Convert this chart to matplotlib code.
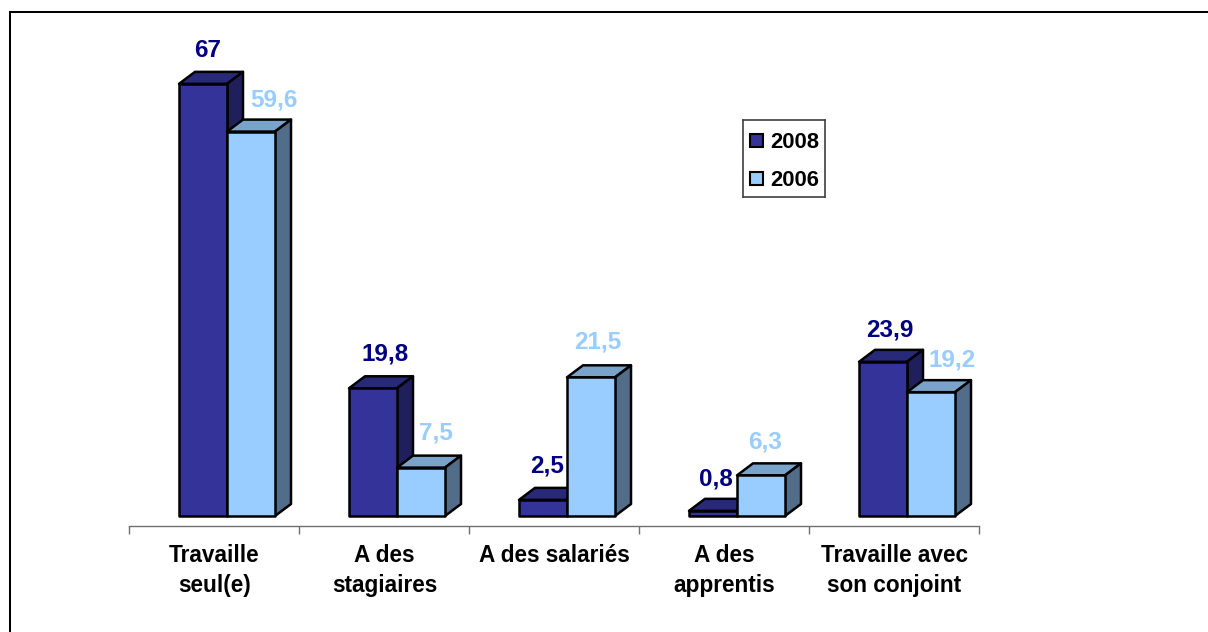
import matplotlib
matplotlib.use('Agg')
import matplotlib.pyplot as plt
from matplotlib.lines import Line2D
from matplotlib.patches import Polygon, Rectangle

categories = ['Travaille\nseul(e)', 'A des\nstagiaires', 'A des salariés', 'A des\napprentis', 'Travaille avec\nson conjoint']
values_2008 = [67, 19.8, 2.5, 0.8, 23.9]
values_2006 = [59.6, 7.5, 21.5, 6.3, 19.2]
labels_2008 = ['67', '19,8', '2,5', '0,8', '23,9']
labels_2006 = ['59,6', '7,5', '21,5', '6,3', '19,2']

# the labels were hand placed in the original, nudges in pixels from the front face
nudge_x_2008 = [5, 12, 4, 3, 7]
nudge_y_2008 = [36, 37, 36, 34, 34]
nudge_x_2006 = [23, 15, 7, 4, 21]
nudge_y_2006 = [34, 37, 38, 36, 35]

W, H = 1208, 632
PX_PER_UNIT = 6.45
CAT_PX = 170.0
BAR_W = 48 / CAT_PX
DX = 16 / CAT_PX
DY = 12 / PX_PER_UNIT

plt.rcParams['font.family'] = ['Liberation Sans', 'DejaVu Sans']
plt.rcParams['font.weight'] = 'bold'

fig = plt.figure(figsize=(W / 100, H / 100), dpi=100)
fig.patch.set_facecolor('white')

# outer frame, only top and left are visible
fig.add_artist(Line2D([10 / W, 1], [1 - 12 / H, 1 - 12 / H], color='black', linewidth=1.45))
fig.add_artist(Line2D([10 / W, 10 / W], [0, 1 - 12 / H], color='black', linewidth=1.45))

# axes spans the category band, its bottom is the bar base line
ax = fig.add_axes([129 / W, (H - 516) / H, 850 / W, 470 / H])
ax.set_xlim(0, 5)
ax.set_ylim(0, 470 / PX_PER_UNIT)
ax.patch.set_alpha(0)
for s in ['top', 'left', 'right']:
    ax.spines[s].set_visible(False)
ax.spines['bottom'].set_position(('outward', 7.2))
ax.spines['bottom'].set_color('#707070')
ax.spines['bottom'].set_linewidth(1.0)
ax.set_yticks([])
ax.set_xticks(range(6))
ax.set_xticklabels([])
ax.tick_params(axis='x', length=6, width=1.0, color='#707070')


def bar3d(x, v, front, top, side, z):
    x2 = x + BAR_W
    kw = dict(edgecolor='black', linewidth=1.8, joinstyle='round', clip_on=False, zorder=z)
    ax.add_patch(Polygon([(x, v), (x + DX, v + DY), (x2 + DX, v + DY), (x2, v)], facecolor=top, **kw))
    ax.add_patch(Polygon([(x2, 0), (x2 + DX, DY), (x2 + DX, v + DY), (x2, v)], facecolor=side, **kw))
    ax.add_patch(Rectangle((x, 0), BAR_W, v, facecolor=front, **kw))


for i in range(5):
    x1 = i + 50 / CAT_PX
    x2 = x1 + BAR_W
    bar3d(x1, values_2008[i], '#333399', '#29297A', '#1F1F5C', 2 + i)
    bar3d(x2, values_2006[i], '#99CCFF', '#7AA3CC', '#526D8A', 2.5 + i)
    ax.annotate(labels_2008[i], (x1 + BAR_W / 2, values_2008[i]),
                xytext=(nudge_x_2008[i], nudge_y_2008[i] - 9), textcoords='offset pixels',
                ha='center', va='baseline', color='#000080', fontsize=17.5, zorder=10)
    ax.annotate(labels_2006[i], (x2 + BAR_W / 2, values_2006[i]),
                xytext=(nudge_x_2006[i], nudge_y_2006[i] - 9), textcoords='offset pixels',
                ha='center', va='baseline', color='#99CCFF', fontsize=17.5, zorder=10)
    ax.annotate(categories[i], (i + 0.5, 0), xytext=(0.5, -28), textcoords='offset pixels',
                ha='center', va='top', color='black', fontsize=16.3, linespacing=1.37,
                annotation_clip=False)

# legend box
lax = fig.add_axes([742.5 / W, (H - 196.5) / H, 82.5 / W, 76.5 / H])
lax.set_xlim(0, 82.5)
lax.set_ylim(76.5, 0)
lax.set_xticks([])
lax.set_yticks([])
for s in lax.spines.values():
    s.set_color('#404040')
    s.set_linewidth(1.2)
for name, col, yc in [('2008', '#333399', 20), ('2006', '#99CCFF', 58)]:
    lax.add_patch(Rectangle((7.5, yc - 6.5), 13, 13, facecolor=col, edgecolor='black', linewidth=1.5))
    lax.text(28, yc, name, ha='left', va='center_baseline', fontsize=15.8, color='black')

fig.savefig('out.png', dpi=100)
